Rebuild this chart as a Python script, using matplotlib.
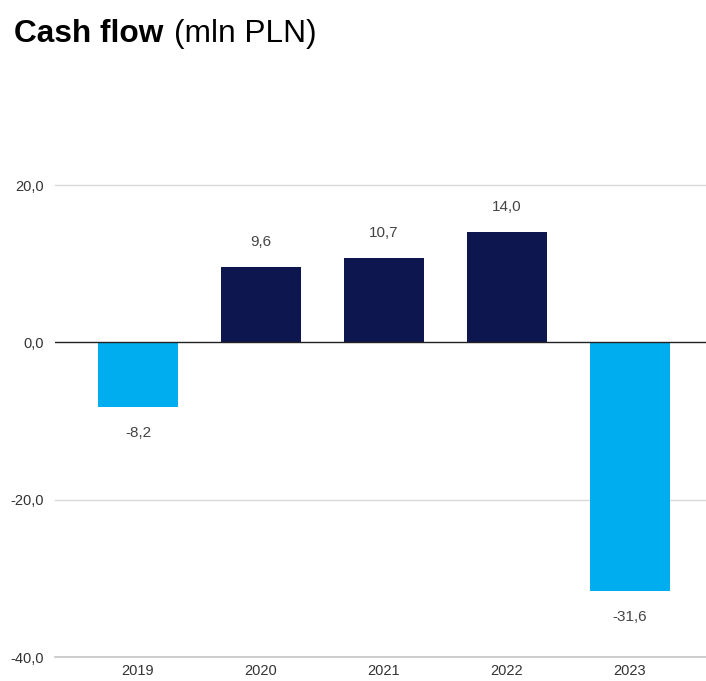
import matplotlib.pyplot as plt
from matplotlib.ticker import FuncFormatter

plt.rcParams['font.family'] = ['Liberation Sans', 'DejaVu Sans']

years = ['2019', '2020', '2021', '2022', '2023']
cash_flow = [-8.2, 9.6, 10.7, 14.0, -31.6]
y_ticks = [-40, -20, 0, 20]

light_blue = '#00adef'
navy = '#0e164f'
colors = [light_blue if v < 0 else navy for v in cash_flow]

fig = plt.figure(figsize=(7.06, 6.81), dpi=100)
ax = fig.add_axes([0.078, 0.0352, 0.922, 0.6931])

x = list(range(len(years)))
ax.bar(x, cash_flow, width=0.65, color=colors, zorder=3)

# value labels above/below bars
for xi, v in zip(x, cash_flow):
    label = f'{v:.1f}'.replace('.', ',')
    if v >= 0:
        ax.annotate(label, (xi, v), xytext=(0, 18), textcoords='offset points',
                    ha='center', va='center', fontsize=11, color='#444444')
    else:
        ax.annotate(label, (xi, v), xytext=(0, -19), textcoords='offset points',
                    ha='center', va='center', fontsize=11, color='#444444')

ax.set_xlim(-0.675, 4.62)
ax.set_ylim(-40, 20)
ax.set_xticks(x)
ax.set_xticklabels(years)
ax.set_yticks(y_ticks)
ax.yaxis.set_major_formatter(FuncFormatter(lambda v, p: f'{v:.1f}'.replace('.', ',')))

# gridlines
for t in y_ticks:
    if t == 0:
        ax.axhline(t, color='#222222', lw=1.0, zorder=4)
    elif t == -40:
        ax.axhline(t, color='#c4c4c4', lw=1.2, zorder=2, clip_on=False)
    else:
        ax.axhline(t, color='#d9d9d9', lw=1.0, zorder=2, clip_on=False)

for s in ax.spines.values():
    s.set_visible(False)
ax.tick_params(axis='both', length=0, labelsize=10.5, colors='#333333')
ax.tick_params(axis='x', pad=5)
ax.tick_params(axis='y', pad=8)

fig.text(0.02, 0.938, 'Cash flow', fontsize=22.8, fontweight='bold', color='black',
         ha='left', va='baseline')
fig.text(0.247, 0.938, '(mln PLN)', fontsize=22.8, color='black',
         ha='left', va='baseline')

fig.savefig('out.png', dpi=100)
